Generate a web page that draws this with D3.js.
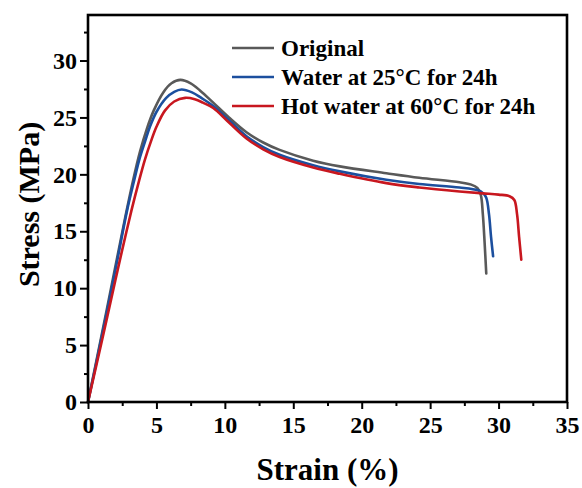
<!DOCTYPE html>
<html>
<head>
<meta charset="utf-8">
<script src="https://cdn.jsdelivr.net/npm/d3@7/dist/d3.min.js"></script>
<style>
  html, body { margin: 0; padding: 0; background: #fff; }
  svg text { font-family: "Liberation Serif", "Times New Roman", serif; font-weight: bold; fill: #000; }
</style>
</head>
<body>
<svg id="chart" width="582" height="488"></svg>
<script>
// Tensile stress–strain curves for the three conditioning treatments
const seriesNames = ["Original", "Water at 25°C for 24h", "Hot water at 60°C for 24h"];

const originalStrain = [0, 1.0, 2.0, 2.7, 3.3, 3.8, 4.3, 4.8, 5.5, 6.1, 6.75, 7.5, 8.2, 9.15, 10.3, 11.58, 12.8, 14.0, 16.45, 18.4, 21.8, 24.2, 27.15, 28.0, 28.45, 28.7, 28.85, 28.98, 29.1];
const originalStress = [0, 5.9, 11.9, 16.1, 19.5, 22.0, 24.0, 25.6, 27.2, 28.0, 28.3, 28.0, 27.35, 26.3, 25.0, 23.7, 22.8, 22.15, 21.2, 20.7, 20.1, 19.7, 19.3, 19.1, 18.8, 18.2, 16.5, 14.0, 11.3];

const waterStrain = [0, 1.0, 2.0, 2.87, 3.4, 3.75, 4.2, 4.53, 5.01, 5.7, 6.3, 6.84, 7.6, 8.3, 9.15, 10.3, 11.58, 12.8, 14.0, 16.45, 18.4, 21.8, 24.2, 27.15, 28.5, 28.86, 29.1, 29.3, 29.45, 29.6];
const waterStress = [0, 5.7, 11.6, 16.9, 19.6, 21.3, 23.0, 24.2, 25.5, 26.7, 27.25, 27.45, 27.2, 26.7, 26.0, 24.75, 23.35, 22.4, 21.72, 20.8, 20.26, 19.52, 19.15, 18.85, 18.6, 18.35, 17.95, 16.5, 14.5, 12.8];

const hotWaterStrain = [0, 1.0, 2.0, 2.45, 3.19, 3.7, 4.16, 4.6, 5.01, 5.62, 6.3, 7.1, 7.8, 8.4, 9.15, 10.3, 11.58, 12.8, 14.0, 16.45, 18.4, 21.8, 24.2, 27.15, 28.86, 30.0, 30.8, 31.15, 31.35, 31.5, 31.66];
const hotWaterStress = [0, 5.3, 10.7, 13.1, 16.9, 19.3, 21.3, 22.9, 24.2, 25.6, 26.4, 26.72, 26.6, 26.3, 25.83, 24.55, 23.15, 22.2, 21.52, 20.6, 20.05, 19.23, 18.85, 18.5, 18.33, 18.22, 18.08, 17.75, 16.5, 14.5, 12.5];

const seriesColors = ["#595959", "#1c4f9e", "#c8171f"];

const xTicks = [0, 5, 10, 15, 20, 25, 30, 35];
const yTicks = [0, 5, 10, 15, 20, 25, 30];
const xMinorTicks = [2.5, 7.5, 12.5, 17.5, 22.5, 27.5, 32.5];
const yMinorTicks = [2.5, 7.5, 12.5, 17.5, 22.5, 27.5, 32.5];

const xTitle = "Strain (%)";
const yTitle = "Stress (MPa)";

const series = [
  { name: seriesNames[0], color: seriesColors[0], strain: originalStrain, stress: originalStress },
  { name: seriesNames[1], color: seriesColors[1], strain: waterStrain, stress: waterStress },
  { name: seriesNames[2], color: seriesColors[2], strain: hotWaterStrain, stress: hotWaterStress }
];

const svg = d3.select("#chart");
const plot = { left: 88, right: 567, top: 15, bottom: 402 };

const x = d3.scaleLinear().domain([0, 35]).range([plot.left, plot.right]);
const y = d3.scaleLinear().domain([0, 34]).range([plot.bottom, plot.top]);

// Curves
const line = d3.line()
  .x(d => x(d[0]))
  .y(d => y(d[1]))
  .curve(d3.curveCatmullRom.alpha(0.5));

const curves = svg.append("g");
series.forEach(s => {
  const pts = s.strain.map((v, i) => [v, s.stress[i]]);
  curves.append("path")
    .attr("d", line(pts))
    .attr("fill", "none")
    .attr("stroke", s.color)
    .attr("stroke-width", 2.6)
    .attr("stroke-linejoin", "round")
    .attr("stroke-linecap", "round");
});

// Axes
const xAxis = svg.append("g")
  .attr("transform", `translate(0,${plot.bottom})`)
  .call(d3.axisBottom(x).tickValues(xTicks).tickSize(7).tickPadding(7).tickFormat(d3.format("d")));
const xMinor = svg.append("g")
  .attr("transform", `translate(0,${plot.bottom})`)
  .call(d3.axisBottom(x).tickValues(xMinorTicks).tickSize(4).tickFormat(""));
const yAxis = svg.append("g")
  .attr("transform", `translate(${plot.left},0)`)
  .call(d3.axisLeft(y).tickValues(yTicks).tickSize(8).tickPadding(3).tickFormat(d3.format("d")));
const yMinor = svg.append("g")
  .attr("transform", `translate(${plot.left},0)`)
  .call(d3.axisLeft(y).tickValues(yMinorTicks).tickSize(4).tickFormat(""));

[xAxis, xMinor, yAxis, yMinor].forEach(g => {
  g.select(".domain").remove();
  g.selectAll(".tick line").attr("stroke", "#000").attr("stroke-width", 2);
  g.selectAll(".tick text")
    .attr("font-family", "'Liberation Serif', 'Times New Roman', serif")
    .attr("font-weight", "bold")
    .attr("font-size", 24)
    .attr("fill", "#000");
});

// Frame
svg.append("rect")
  .attr("x", plot.left)
  .attr("y", plot.top)
  .attr("width", plot.right - plot.left)
  .attr("height", plot.bottom - plot.top)
  .attr("fill", "none")
  .attr("stroke", "#000")
  .attr("stroke-width", 2.6);

// Axis titles
svg.append("text")
  .attr("x", (plot.left + plot.right) / 2)
  .attr("y", 480)
  .attr("text-anchor", "middle")
  .attr("font-size", 31)
  .text(xTitle);

svg.append("text")
  .attr("transform", `translate(39,${(plot.top + plot.bottom) / 2 - 4}) rotate(-90)`)
  .attr("text-anchor", "middle")
  .attr("font-size", 30)
  .text(yTitle);

// Legend
const legend = svg.append("g").attr("transform", "translate(232,48)");
series.forEach((s, i) => {
  const row = legend.append("g").attr("transform", `translate(0,${i * 29})`);
  row.append("line")
    .attr("x1", 0).attr("x2", 42)
    .attr("y1", 0).attr("y2", 0)
    .attr("stroke", s.color)
    .attr("stroke-width", 2.6);
  row.append("text")
    .attr("x", 49)
    .attr("y", 0)
    .attr("dy", "0.34em")
    .attr("font-size", 23)
    .text(s.name);
});
</script>
</body>
</html>
